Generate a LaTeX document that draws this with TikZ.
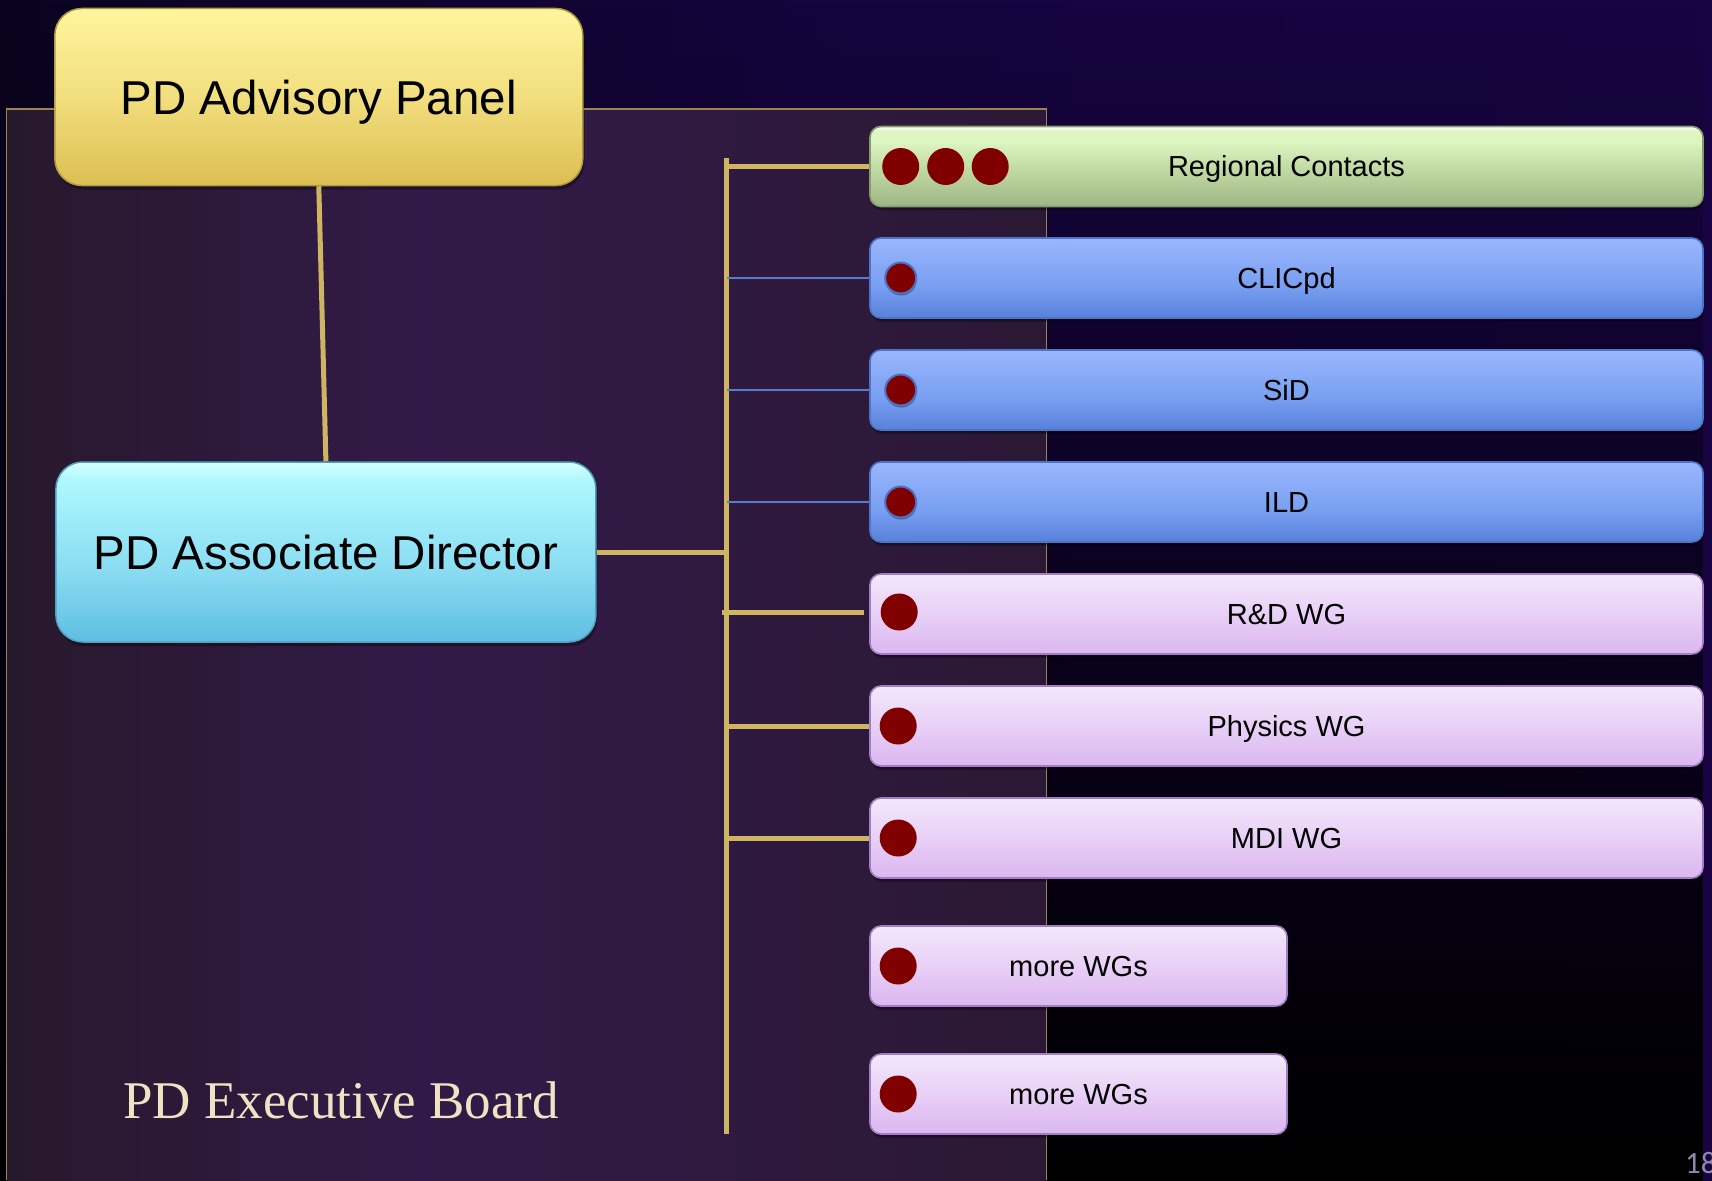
\documentclass[tikz,border=0pt]{standalone}
\usepackage{fontspec}
\setmainfont{Liberation Sans}
\newfontfamily\boardfont{Liberation Serif}
\newfontfamily\numfont{Carlito}
\usetikzlibrary{shadows,fadings,calc}

\definecolor{goldline}{HTML}{CDB562}
\definecolor{boardedge}{HTML}{9A8452}
\definecolor{blueline}{HTML}{5A7ACC}
\definecolor{dotred}{HTML}{800000}
\definecolor{dotrim}{HTML}{4E70C4}
\definecolor{bgL}{HTML}{0A0420}
\definecolor{bgM}{HTML}{16043F}
\definecolor{bgR}{HTML}{180442}
\definecolor{bL}{HTML}{27192C}
\definecolor{bM}{HTML}{321A48}
\definecolor{bR}{HTML}{2B1834}
\definecolor{ylB}{HTML}{DCBF52}
\definecolor{ylM}{HTML}{F2DE7E}
\definecolor{ylT}{HTML}{FFF59E}
\definecolor{cyB}{HTML}{5EBEE2}
\definecolor{cyM}{HTML}{8ADCF2}
\definecolor{cyT}{HTML}{AEF8FF}
\definecolor{cyW}{HTML}{D8FFFF}
\definecolor{grB}{HTML}{9EB684}
\definecolor{grM}{HTML}{BCD49E}
\definecolor{grT}{HTML}{DDF6C2}
\definecolor{grW}{HTML}{FFFFFF}
\definecolor{blB}{HTML}{5681DC}
\definecolor{blM}{HTML}{789FF0}
\definecolor{blT}{HTML}{9AB7FF}
\definecolor{pkB}{HTML}{DBB7F0}
\definecolor{pkT}{HTML}{F4E8FC}
\definecolor{pkEdge}{HTML}{A27EC4}
\definecolor{boardtext}{HTML}{F2E2C4}
\definecolor{pagenum}{HTML}{8C8AA8}

\pgfdeclarehorizontalshading{boardsh}{100bp}{color(0bp)=(bL); color(25bp)=(bL); color(45bp)=(bM); color(75bp)=(bR); color(100bp)=(bR)}
\pgfdeclarehorizontalshading{bgsh}{100bp}{color(0bp)=(bgL); color(25bp)=(bgL); color(50bp)=(bgM); color(75bp)=(bgR); color(100bp)=(bgR)}
\pgfdeclareverticalshading{yellowsh}{100bp}{color(0bp)=(ylB); color(25bp)=(ylB); color(50bp)=(ylM); color(75bp)=(ylT); color(100bp)=(ylT)}
\pgfdeclareverticalshading{cyansh}{100bp}{color(0bp)=(cyB); color(25bp)=(cyB); color(45bp)=(cyM); color(70bp)=(cyT); color(75bp)=(cyW); color(100bp)=(cyW)}
\pgfdeclareverticalshading{greensh}{100bp}{color(0bp)=(grB); color(25bp)=(grB); color(45bp)=(grM); color(66bp)=(grT); color(72bp)=(grT); color(75bp)=(grW); color(100bp)=(grW)}
\pgfdeclareverticalshading{bluesh}{100bp}{color(0bp)=(blB); color(25bp)=(blB); color(45bp)=(blM); color(75bp)=(blT); color(100bp)=(blT)}
\pgfdeclareverticalshading{pinksh}{100bp}{color(0bp)=(pkB); color(25bp)=(pkB); color(75bp)=(pkT); color(100bp)=(pkT)}

\tikzfading[name=darkdown, top color=transparent!100, middle color=transparent!88, bottom color=transparent!0]

\tikzset{
  goldcon/.style={draw=goldline, line width=5pt},
  bluecon/.style={draw=blueline, line width=1.4pt},
  bigbox/.style={rectangle, rounded corners=27pt, inner sep=0pt,
    font=\fontsize{47.5pt}{57pt}\selectfont, text=black, line width=1.5pt,
    text height=34pt, text depth=0pt,
    drop shadow={shadow xshift=1.5pt, shadow yshift=-4pt, opacity=0.35, fill=black}},
  rowbox/.style={rectangle, rounded corners=11pt, inner sep=0pt, minimum height=80pt,
    font=\fontsize{29pt}{35pt}\selectfont, text=black, line width=1.6pt,
    text height=20.8pt, text depth=0pt,
    drop shadow={shadow xshift=1pt, shadow yshift=-3.5pt, opacity=0.35, fill=black}},
  longrow/.style={rowbox, minimum width=833pt},
  greenrow/.style={longrow, shading=greensh, draw=grB!85!black},
  bluerow/.style={longrow, shading=bluesh, draw=blB!90!black},
  pinkbase/.style={rowbox, shading=pinksh, draw=pkEdge},
  pinkrow/.style={pinkbase, minimum width=833pt},
  bigdot/.style={circle, fill=dotred, minimum size=37pt, inner sep=0pt},
  smalldot/.style={circle, fill=dotred, draw=dotrim, line width=2pt, minimum size=31pt, inner sep=0pt,
    drop shadow={shadow xshift=0.5pt, shadow yshift=-2pt, opacity=0.35, fill=black}},
}

\begin{document}
\begin{tikzpicture}[x=1pt,y=-1pt]
\useasboundingbox (0,0) rectangle (1712,1180);
% background
\fill[shading=bgsh] (0,0) rectangle (1712,1180);
\fill[black, path fading=darkdown] (0,0) rectangle (1712,1180);
% executive board panel
\fill[shading=boardsh] (6.5,109) rectangle (1046.7,1180);
\draw[boardedge, line width=1.5pt] (6.5,1180) -- (6.5,109) -- (1046.7,109) -- (1046.7,1180);

% boxes
\node[bigbox, shading=yellowsh, draw=ylB!80!black, minimum width=528pt, minimum height=177pt] (adv) at (318.8,97) {PD Advisory Panel};
\node[bigbox, shading=cyansh, draw=cyB!85!black, minimum width=540pt, minimum height=180pt] (assoc) at (325.9,552) {PD Associate Director};

% bus and connectors
\coordinate (bt) at (726.5,158);
\coordinate (bb) at (726.5,1134);
\draw[goldcon] (bt) -- (bb);
\draw[goldcon] (adv.south) -- (assoc.north);

\node[greenrow] (reg) at (1286.5,166.5) {Regional Contacts};
\node[bluerow] (cli) at (1286.5,278) {CLICpd};
\node[bluerow] (sid) at (1286.5,390) {SiD};
\node[bluerow] (ild) at (1286.5,502) {ILD};
\node[pinkrow] (rd) at (1286.5,614) {R\&D WG};
\node[pinkrow] (phy) at (1286.5,726) {Physics WG};
\node[pinkrow] (mdi) at (1286.5,838) {MDI WG};
\node[pinkbase, minimum width=417pt] (more1) at (1078.5,966) {more WGs};
\node[pinkbase, minimum width=417pt] (more2) at (1078.5,1094) {more WGs};

\draw[goldcon] (assoc.east) -- (assoc.east -| bt);
\draw[goldcon] (reg.west) -- (reg.west -| bt);
\draw[bluecon] (cli.west) -- (cli.west -| bt);
\draw[bluecon] (sid.west) -- (sid.west -| bt);
\draw[bluecon] (ild.west) -- (ild.west -| bt);
\draw[goldcon] ($(rd.west -| bt)+(-5,-2)$) -- ($(rd.west)+(-5,-2)$);
\draw[goldcon] (phy.west) -- (phy.west -| bt);
\draw[goldcon] (mdi.west) -- (mdi.west -| bt);

% dots
\node[bigdot] (rc1) at ($(reg.west)+(31.5,0)$) {};
\node[bigdot] (rc2) at ($(reg.west)+(76.5,0)$) {};
\node[bigdot] (rc3) at ($(reg.west)+(121,0)$) {};
\node[smalldot] (d1) at ($(cli.west)+(31.5,0)$) {};
\node[smalldot] (d2) at ($(sid.west)+(31.5,0)$) {};
\node[smalldot] (d3) at ($(ild.west)+(31.5,0)$) {};
\node[bigdot] (d4) at ($(rd.west)+(30,-2)$) {};
\node[bigdot] (d5) at ($(phy.west)+(29,0)$) {};
\node[bigdot] (d6) at ($(mdi.west)+(29,0)$) {};
\node[bigdot] (d7) at ($(more1.west)+(29,0)$) {};
\node[bigdot] (d8) at ($(more2.west)+(29,0)$) {};

% labels
\node[text=boardtext, font=\boardfont\fontsize{53pt}{60pt}\selectfont] (eb) at (341,1100) {PD Executive Board};
\node[anchor=base west, inner sep=0pt, text=pagenum, font=\numfont\fontsize{31pt}{36pt}\selectfont] (pg) at (1685,1173) {18};
\end{tikzpicture}
\end{document}
